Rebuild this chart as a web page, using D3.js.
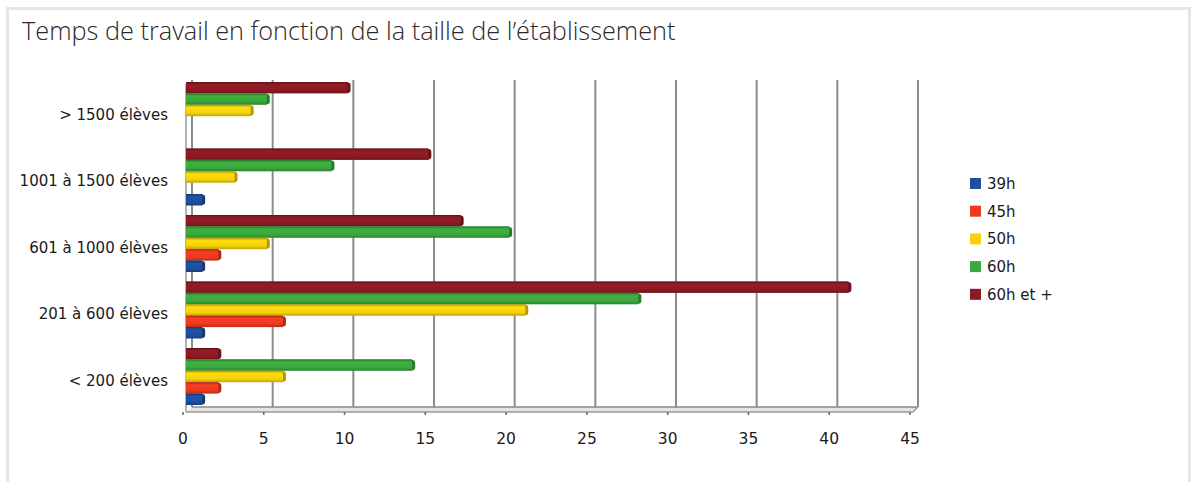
<!DOCTYPE html>
<html><head><meta charset="utf-8">
<script src="https://cdn.jsdelivr.net/npm/d3@7"></script>
<style>
html,body{margin:0;padding:0;background:#fff;}
svg{display:block;}
</style></head>
<body>
<script>
const title = "Temps de travail en fonction de la taille de l’établissement";
const categories = ["> 1500 élèves", "1001 à 1500 élèves", "601 à 1000 élèves", "201 à 600 élèves", "< 200 élèves"];
const seriesNames = ["39h", "45h", "50h", "60h", "60h et +"];
const v39h   = [0, 1, 1, 1, 1];
const v45h   = [0, 0, 2, 6, 2];
const v50h   = [4, 3, 5, 21, 6];
const v60h   = [5, 9, 20, 28, 14];
const v60hp  = [10, 15, 17, 41, 2];
const xTicks = [0, 5, 10, 15, 20, 25, 30, 35, 40, 45];
const colors = ["#1d4f9e", "#ee3a1f", "#f6d20a", "#3aa83c", "#8c1a24"];

const seriesValues = [v39h, v45h, v50h, v60h, v60hp];
const W = 1192, H = 482;
const FONT = "'DejaVu Sans', 'Liberation Sans', Arial, sans-serif";
const svg = d3.select("body").append("svg").attr("width", W).attr("height", H);

// frame
svg.append("rect").attr("x", 0).attr("y", 0).attr("width", W).attr("height", H).attr("fill", "#fff");
svg.append("path").attr("d", `M7.5,${H} L7.5,8.5 L1189.5,8.5 L1189.5,${H}`)
  .attr("fill", "none").attr("stroke", "#e9e6e2").attr("stroke-width", 3);

svg.append("text").attr("x", 22).attr("y", 40).text(title)
  .attr("font-family", "'Open Sans', 'Noto Sans', sans-serif").attr("font-weight", 300)
  .attr("font-size", 25.3).attr("fill", "#2a2a2a");

// scales
const xFront = d3.scaleLinear().domain([0, 45]).range([183, 910]);
const xBack = d3.scaleLinear().domain([0, 45]).range([192, 918]);
const yCat = d3.scaleBand().domain(categories).range([82, 82 + 66.5 * 5]).paddingInner(0).paddingOuter(0);
const ySer = d3.scaleBand().domain(seriesNames.slice().reverse()).range([0, 57]);

const wallTop = 80, wallBottom = 407, floorFront = 412;

// gradients
const defs = svg.append("defs");
colors.forEach((c, i) => {
  const g = defs.append("linearGradient").attr("id", "g" + i).attr("x1", 0).attr("x2", 0).attr("y1", 0).attr("y2", 1);
  const cc = d3.color(c);
  g.append("stop").attr("offset", "0%").attr("stop-color", cc.darker(0.6));
  g.append("stop").attr("offset", "25%").attr("stop-color", cc.brighter(0.15));
  g.append("stop").attr("offset", "70%").attr("stop-color", cc);
  g.append("stop").attr("offset", "100%").attr("stop-color", cc.darker(0.7));
});

// floor
svg.append("path").attr("d", `M186,${floorFront} L${xBack(0)},${wallBottom} L${xBack(45)},${wallBottom} L${xFront(45)+3},${floorFront} Z`)
  .attr("fill", "#e4e4e4").attr("stroke", "none");
svg.append("line").attr("x1", xBack(0)).attr("x2", xBack(45)).attr("y1", wallBottom).attr("y2", wallBottom)
  .attr("stroke", "#8a8a8a").attr("stroke-width", 1.5);
svg.append("line").attr("x1", 186).attr("x2", xFront(45) + 3).attr("y1", floorFront).attr("y2", floorFront)
  .attr("stroke", "#9a9a9a").attr("stroke-width", 1.5);

// back wall gridlines
svg.append("g").selectAll("line").data(xTicks).join("line")
  .attr("x1", d => xBack(d)).attr("x2", d => xBack(d))
  .attr("y1", wallTop).attr("y2", wallBottom)
  .attr("stroke", "#8c8c8c").attr("stroke-width", 2);
// left wall front edge
svg.append("line").attr("x1", 186).attr("x2", 186).attr("y1", wallTop + 4).attr("y2", floorFront)
  .attr("stroke", "#9a9a9a").attr("stroke-width", 1.5);
// right end diagonal
svg.append("line").attr("x1", xBack(45)).attr("x2", xFront(45) + 3).attr("y1", wallBottom).attr("y2", floorFront)
  .attr("stroke", "#9a9a9a").attr("stroke-width", 1.5);

// x ticks & labels
const gx = svg.append("g");
gx.selectAll("line").data(xTicks).join("line")
  .attr("x1", d => xFront(d)).attr("x2", d => xFront(d)).attr("y1", floorFront).attr("y2", floorFront + 3)
  .attr("stroke", "#666").attr("stroke-width", 1.5);
gx.selectAll("text").data(xTicks).join("text")
  .attr("x", d => xFront(d)).attr("y", 444).attr("text-anchor", "middle")
  .attr("font-family", FONT).attr("font-size", 15.5).attr("fill", "#1a1a1a")
  .text(d => d);

// category labels
svg.append("g").selectAll("text").data(categories).join("text")
  .attr("x", 168).attr("y", d => yCat(d) + 28.5 + 4).attr("dy", "0.35em").attr("text-anchor", "end")
  .attr("font-family", FONT).attr("font-size", 15).attr("fill", "#1a1a1a")
  .text(d => d);

// bars
const bars = [];
categories.forEach((c, ci) => {
  seriesNames.forEach((s, si) => {
    const v = seriesValues[si][ci];
    if (v > 0) bars.push({c, s, si, v});
  });
});
bars.sort((a, b) => (categories.indexOf(a.c) - categories.indexOf(b.c)) || (b.si - a.si));
const bh = ySer.bandwidth();
const gb = svg.append("g");
bars.forEach(b => {
  const y0 = yCat(b.c) + ySer(b.s);
  const x0 = 186, x1 = xFront(b.v) + 3;
  const col = d3.color(colors[b.si]);
  const g = gb.append("g");
  g.append("rect").attr("x", x1 - 4).attr("y", y0 + 0.5).attr("width", 7).attr("height", bh - 1)
    .attr("rx", 3).attr("fill", col.darker(0.9));
  g.append("rect").attr("x", x0).attr("y", y0).attr("width", Math.max(0, x1 - x0)).attr("height", bh)
    .attr("fill", `url(#g${b.si})`);
  g.append("line").attr("x1", x0).attr("x2", x1).attr("y1", y0 + 0.5).attr("y2", y0 + 0.5)
    .attr("stroke", col.darker(1)).attr("stroke-width", 1).attr("opacity", 0.7);
});

// legend
const lg = svg.append("g").attr("transform", "translate(970,178)");
seriesNames.forEach((s, i) => {
  const gy = i * 27.7;
  lg.append("rect").attr("x", 0).attr("y", gy).attr("width", 11).attr("height", 11).attr("fill", colors[i]);
  lg.append("text").attr("x", 17).attr("y", gy + 5.5).attr("dy", "0.36em")
    .attr("font-family", FONT).attr("font-size", 15).attr("fill", "#1a1a1a")
    .text(s);
});
</script>
</body></html>
